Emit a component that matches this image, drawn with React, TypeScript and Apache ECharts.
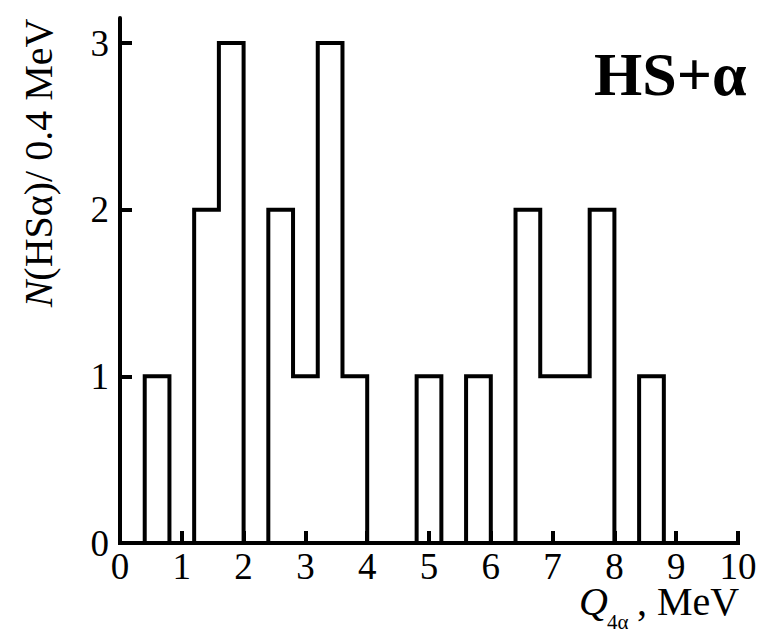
import React, { useEffect, useRef } from "react";
import * as echarts from "echarts";

// Histogram of Q(4α): counts per 0.4 MeV bin, bins starting at 0 MeV
const BIN_WIDTH = 0.4;
const counts = [0, 1, 0, 2, 3, 0, 2, 1, 3, 1, 0, 0, 1, 0, 1, 0, 2, 1, 1, 2, 0, 1, 0, 0, 0];
const xTickValues = [0, 1, 2, 3, 4, 5, 6, 7, 8, 9, 10];
const yTickValues = [0, 1, 2, 3];
const X_MIN = 0;
const X_MAX = 10;
const Y_MIN = 0;
const Y_MAX = 3.15;

const FONT = "Liberation Serif, Times New Roman, serif";

export default function App() {
  const ref = useRef<HTMLDivElement>(null);

  useEffect(() => {
    if (!ref.current) return;
    const chart = echarts.init(ref.current, undefined, { renderer: "svg" });

    const stepData: [number, number][] = counts.map((c, i) => [i * BIN_WIDTH, c]);
    stepData.push([counts.length * BIN_WIDTH, 0]);

    const textBase = {
      fill: "#000",
      align: "left",
      textAlign: "left",
      verticalAlign: "middle",
      textVerticalAlign: "middle",
    };

    const option: any = {
      animation: false,
      backgroundColor: "#ffffff",
      grid: { left: 120, right: 36, top: 18, bottom: 91, containLabel: false },
      xAxis: {
        type: "value",
        min: X_MIN,
        max: X_MAX,
        interval: 1,
        axisLine: { show: true, onZero: false, lineStyle: { color: "#000", width: 4 } },
        axisTick: {
          show: true,
          inside: true,
          length: 12,
          lineStyle: { color: "#000", width: 4 },
          customValues: xTickValues,
        },
        axisLabel: {
          show: true,
          color: "#000",
          fontFamily: FONT,
          fontSize: 37,
          lineHeight: 30,
          margin: 8,
          customValues: xTickValues,
        },
        splitLine: { show: false },
      },
      yAxis: {
        type: "value",
        min: Y_MIN,
        max: Y_MAX,
        interval: 1,
        axisLine: { show: true, lineStyle: { color: "#000", width: 4 } },
        axisTick: {
          show: true,
          inside: true,
          length: 12,
          lineStyle: { color: "#000", width: 4 },
          customValues: yTickValues,
        },
        axisLabel: {
          show: true,
          color: "#000",
          fontFamily: FONT,
          fontSize: 37,
          lineHeight: 30,
          margin: 11,
          customValues: yTickValues,
        },
        splitLine: { show: false },
      },
      series: [
        {
          type: "line",
          step: "end",
          data: stepData,
          showSymbol: false,
          symbol: "none",
          clip: false,
          lineStyle: { color: "#000", width: 4, join: "miter", cap: "square" },
          z: 3,
        },
      ],
      graphic: [
        {
          type: "text",
          x: 594,
          y: 74,
          style: {
            ...textBase,
            text: "HS+α",
            font: "bold 62px " + FONT,
            lineHeight: 50,
          },
        },
        {
          type: "text",
          x: 38,
          y: 163,
          rotation: Math.PI / 2,
          style: {
            ...textBase,
            text: "{i|N}{r|(HSα)/ 0.4 MeV}",
            font: "40px " + FONT,
            lineHeight: 32,
            align: "center",
            textAlign: "center",
            rich: {
              i: { font: "italic 40px " + FONT, lineHeight: 32, fill: "#000" },
              r: { font: "40px " + FONT, lineHeight: 32, fill: "#000" },
            },
          },
        },
        {
          type: "text",
          x: 579,
          y: 601,
          style: {
            ...textBase,
            text: "Q",
            font: "italic 40px " + FONT,
            lineHeight: 28,
          },
        },
        {
          type: "text",
          x: 607,
          y: 622,
          style: {
            ...textBase,
            text: "4α",
            font: "21px " + FONT,
            lineHeight: 16,
          },
        },
        {
          type: "text",
          x: 637,
          y: 601,
          style: {
            ...textBase,
            text: ", MeV",
            font: "40px " + FONT,
            lineHeight: 28,
          },
        },
      ],
    };

    chart.setOption(option);
    return () => {
      chart.dispose();
    };
  }, []);

  return (
    <div
      ref={ref}
      style={{ position: "fixed", left: 0, top: 0, width: 774, height: 634, background: "#fff" }}
    />
  );
}
